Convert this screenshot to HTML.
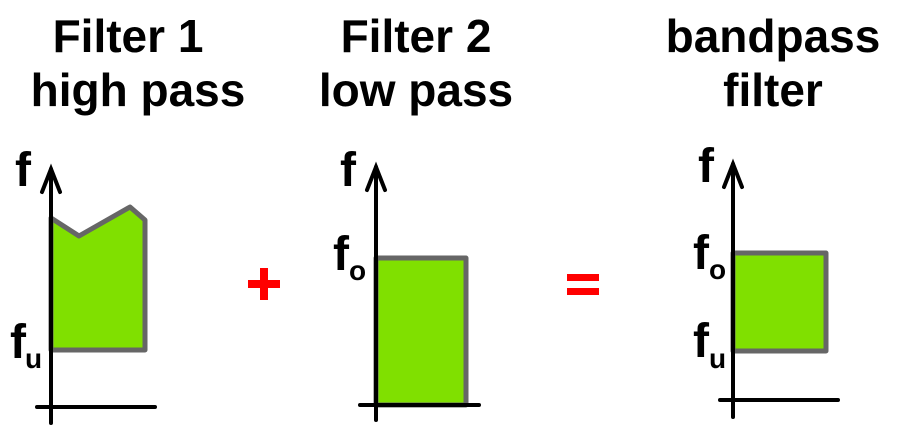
<!DOCTYPE html>
<html><head><style>
body{margin:0;background:#fff;width:897px;height:440px;overflow:hidden}
</style></head><body>
<svg width="897" height="440" xmlns="http://www.w3.org/2000/svg" font-family="Liberation Sans, sans-serif" font-weight="bold">
<g font-size="46" text-anchor="middle" fill="#000">
<text x="128" y="52">Filter 1</text>
<text x="138" y="106">high pass</text>
<text x="416" y="52">Filter 2</text>
<text x="416" y="106">low pass</text>
<text x="773" y="52">bandpass</text>
<text x="773" y="106">filter</text>
</g>
<g stroke="#666" stroke-width="5" fill="#80e000" stroke-linejoin="round">
<polygon points="51,218 79,236 130,207 145,220 145,350 51,350"/>
<rect x="376" y="258" width="90" height="147"/>
<rect x="733" y="253" width="93" height="98"/>
</g>
<g stroke="#000" stroke-width="4" fill="none" stroke-linecap="round">
<line x1="51" y1="423" x2="51" y2="169"/><polyline points="42,192 51,169 60,192"/>
<line x1="37" y1="407" x2="155" y2="407"/>
<line x1="376" y1="420" x2="376" y2="167"/><polyline points="367,190 376,167 385,190"/>
<line x1="360" y1="405" x2="479" y2="405"/>
<line x1="733" y1="417" x2="733" y2="164"/><polyline points="724,187 733,164 742,187"/>
<line x1="720" y1="400" x2="838" y2="400"/>
</g>
<g font-size="48" fill="#000">
<text x="15" y="186">f</text>
<text x="10" y="358">f</text><text x="25" y="368" font-size="28">u</text>
<text x="340" y="186">f</text>
<text x="333" y="270">f</text><text x="349" y="280" font-size="28">o</text>
<text x="698" y="182">f</text>
<text x="693" y="269">f</text><text x="709" y="279" font-size="28">o</text>
<text x="693" y="357">f</text><text x="709" y="368" font-size="28">u</text>
</g>
<g fill="#f00">
<rect x="248" y="280" width="32" height="8"/><rect x="260" y="268" width="8" height="32"/>
<rect x="567" y="274" width="32" height="7"/><rect x="567" y="288" width="32" height="7"/>
</g>
</svg>
</body></html>
